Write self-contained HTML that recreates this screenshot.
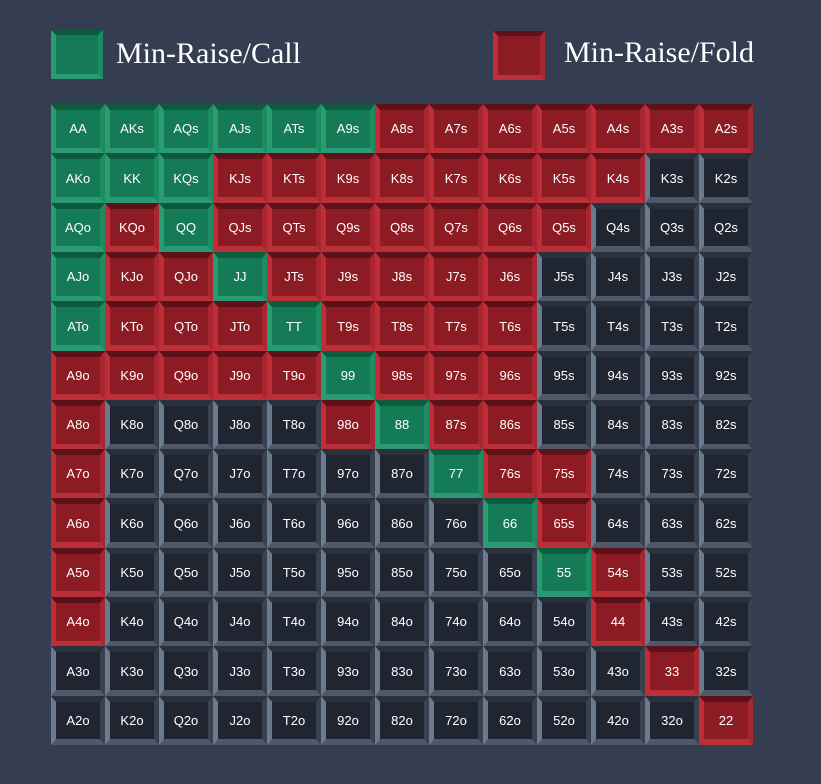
<!DOCTYPE html>
<html><head><meta charset="utf-8">
<style>
body{margin:0;width:821px;height:784px;background:#343e50;overflow:hidden;position:relative;font-family:"Liberation Sans",sans-serif}
.sw{position:absolute;width:42px;height:39px;border-style:solid;border-width:5px}
.lt{position:absolute;font-family:"Liberation Serif",serif;font-size:30px;color:#fff}
.c{position:absolute;box-sizing:border-box;border-style:solid;border-width:6px 5px 6px 5px;color:#fff;font-size:13px;display:flex;align-items:center;justify-content:center}
.g{background:#157a56;border-color:#0d5a3d #1d8c63 #2b9a74 #2a9c72}
.r{background:#8d1b24;border-color:#5c1218 #a8262f #b93039 #c02d36}
.d{background:#1f2531;border-color:#2b313c #394150 #4d5868 #6a7b8e}
</style></head><body>
<div class="sw g" style="left:51px;top:30px"></div>
<div class="lt" style="left:116px;top:37px">Min-Raise/Call</div>
<div class="sw r" style="left:493px;top:31px"></div>
<div class="lt" style="left:564px;top:36px">Min-Raise/Fold</div>
<div id="grid"></div>
<script>
const ranks=["A","K","Q","J","T","9","8","7","6","5","4","3","2"];
// g = call, r = fold, d = none
const actions=[
"ggggggrrrrrrr",
"gggrrrrrrrrdd",
"grgrrrrrrrddd",
"grrgrrrrrdddd",
"grrrgrrrrdddd",
"rrrrrgrrrdddd",
"rddddrgrrdddd",
"rddddddgrrddd",
"rdddddddgrddd",
"rddddddddgrdd",
"rdddddddddrdd",
"dddddddddddrd",
"ddddddddddddr"];
const grid=document.getElementById('grid');
const x0=51,y0=104,cw=54,ch=49.3;
for(let i=0;i<13;i++)for(let j=0;j<13;j++){
  let name=i==j?ranks[i]+ranks[j]:(j>i?ranks[i]+ranks[j]+"s":ranks[j]+ranks[i]+"o");
  const el=document.createElement('div');
  
  
  el.className='c '+actions[i][j];
  el.style.left=(x0+j*cw)+'px';el.style.top=(y0+i*ch)+'px';
  el.style.width=cw+'px';el.style.height=(ch+0.5)+'px';
  el.textContent=name;
  grid.appendChild(el);
}
</script>
</body></html>
